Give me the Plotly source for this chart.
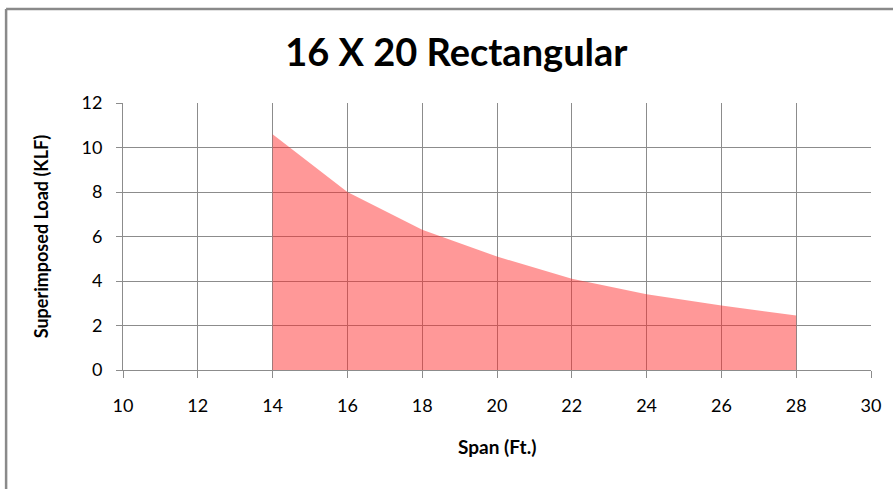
import plotly.graph_objects as go

span_ft = [14, 16, 18, 20, 22, 24, 26, 28]
load_klf = [10.6, 8.0, 6.3, 5.1, 4.1, 3.4, 2.9, 2.45]
x_ticks = [10, 12, 14, 16, 18, 20, 22, 24, 26, 28, 30]
y_ticks = [0, 2, 4, 6, 8, 10, 12]

FONT = "Lato, 'Open Sans', sans-serif"
GRID = "#8c8c8c"

fig = go.Figure()
fig.add_trace(go.Scatter(
    x=span_ft, y=load_klf, mode="lines", fill="tozeroy",
    fillcolor="rgba(255,40,40,0.48)",
    line=dict(width=0, color="rgba(255,40,40,0.48)"),
    hoverinfo="x+y", showlegend=False,
))

fig.update_layout(
    width=893, height=489,
    margin=dict(l=123, r=15, t=103, b=119),
    paper_bgcolor="white", plot_bgcolor="white",
    font=dict(family=FONT, color="black"),
    title=dict(text="<b>16 X 20 Rectangular</b>", x=0.511, xanchor="center",
               y=0.893, yanchor="middle", font=dict(size=38, family=FONT, color="black")),
    xaxis=dict(range=[10, 30], tickvals=x_ticks, showgrid=True, gridcolor=GRID, gridwidth=1,
               showline=True, linecolor=GRID, linewidth=1, ticks="outside", ticklen=7,
               tickcolor=GRID, tickfont=dict(size=18, family=FONT), zeroline=False,
               ticklabelstandoff=12),
    yaxis=dict(range=[0, 12], tickvals=y_ticks, showgrid=True, gridcolor=GRID, gridwidth=1,
               showline=True, linecolor=GRID, linewidth=1, ticks="outside", ticklen=6,
               tickcolor=GRID, tickfont=dict(size=18, family=FONT), zeroline=False,
               ticklabelstandoff=10),
    annotations=[
        dict(text="<b>Span (Ft.)</b>", xref="paper", yref="paper", x=0.5, y=(370 - 446) / 267,
             xanchor="center", yanchor="middle", showarrow=False,
             font=dict(size=19, family=FONT, color="black")),
        dict(text="<b>Superimposed Load (KLF)</b>", xref="paper", yref="paper",
             x=(40 - 123) / 755, y=0.5, xanchor="center", yanchor="middle", textangle=-90,
             showarrow=False, font=dict(size=18, family=FONT, color="black")),
    ],
)

# outer chart border (only top and left are visible in the crop)
fig.add_shape(type="line", xref="paper", yref="paper",
              x0=(5 - 123) / 755, x1=1.03, y0=(370 - 9) / 267, y1=(370 - 9) / 267,
              line=dict(color="#8a8a8a", width=2.5))
fig.add_shape(type="line", xref="paper", yref="paper",
              x0=(5 - 123) / 755, x1=(5 - 123) / 755, y0=(370 - 9) / 267, y1=-0.5,
              line=dict(color="#8a8a8a", width=2.5))

fig.write_html("out.html", config={"displayModeBar": False},
               post_script="document.body.style.margin='0';document.body.style.overflow='hidden';")
